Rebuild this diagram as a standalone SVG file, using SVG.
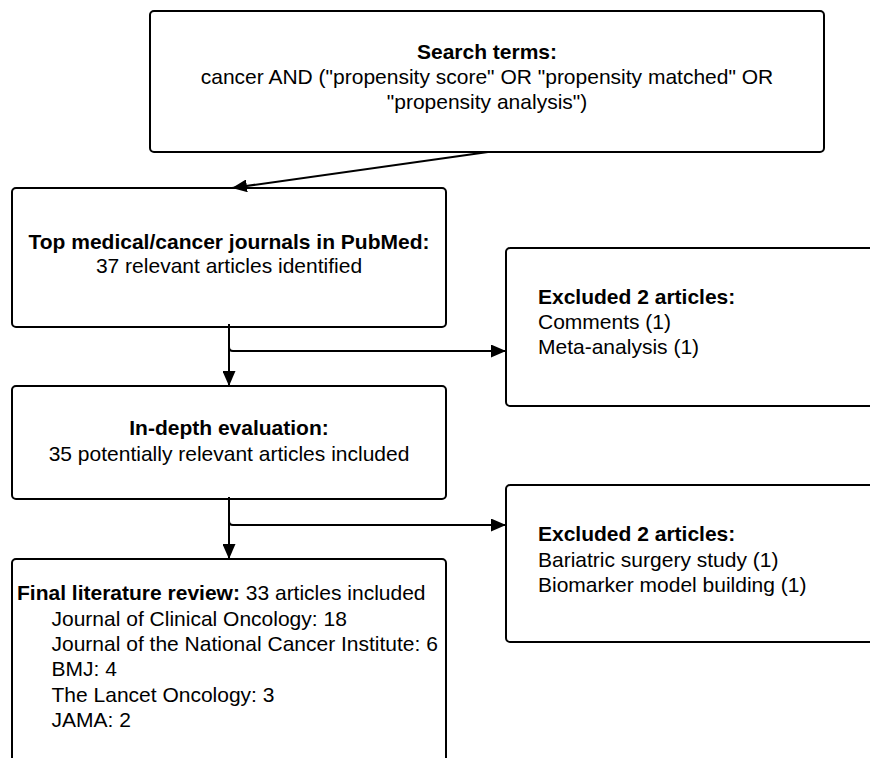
<svg xmlns="http://www.w3.org/2000/svg" width="870" height="758" viewBox="0 0 870 758">
<style>
.box{fill:#fff;stroke:#000;stroke-width:2}
text{font-family:"Liberation Sans",Arial,sans-serif;font-size:21px;fill:#000}
.b{font-weight:bold}
.c{text-anchor:middle}
.conn{fill:none;stroke:#000;stroke-width:2}
</style>
<defs>
<marker id="ah" markerUnits="userSpaceOnUse" markerWidth="16" markerHeight="13" refX="15" refY="6.5" orient="auto">
<path d="M0,0 L15,6.5 L0,13 z" fill="#000"/>
</marker>
</defs>
<rect width="870" height="758" fill="#fff"/>
<g id="search">
<rect class="box" x="150" y="11" width="674" height="141" rx="4"/>
<text class="c b" x="487" y="59">Search terms:</text>
<text class="c" x="487" y="84">cancer AND ("propensity score" OR "propensity matched" OR</text>
<text class="c" x="487" y="109">"propensity analysis")</text>
</g>
<g id="pubmed">
<rect class="box" x="12" y="188" width="434" height="139" rx="4"/>
<text class="c b" x="229" y="249">Top medical/cancer journals in PubMed:</text>
<text class="c" x="229" y="273">37 relevant articles identified</text>
</g>
<g id="excluded1">
<rect class="box" x="506" y="248" width="400" height="158" rx="4"/>
<text class="b" x="538" y="304">Excluded 2 articles:</text>
<text x="538" y="329">Comments (1)</text>
<text x="538" y="354">Meta-analysis (1)</text>
</g>
<g id="indepth">
<rect class="box" x="12" y="386" width="434" height="113" rx="4"/>
<text class="c b" x="229" y="435">In-depth evaluation:</text>
<text class="c" x="229" y="460.5">35 potentially relevant articles included</text>
</g>
<g id="excluded2">
<rect class="box" x="506" y="485" width="400" height="157" rx="4"/>
<text class="b" x="538" y="541">Excluded 2 articles:</text>
<text x="538" y="566.5">Bariatric surgery study (1)</text>
<text x="538" y="592">Biomarker model building (1)</text>
</g>
<g id="final">
<rect class="box" x="12" y="559" width="434" height="220" rx="4"/>
<text x="17" y="600"><tspan class="b">Final literature review:</tspan> 33 articles included</text>
<text x="51.5" y="625.5">Journal of Clinical Oncology: 18</text>
<text x="51.5" y="651">Journal of the National Cancer Institute: 6</text>
<text x="51.5" y="676.3">BMJ: 4</text>
<text x="51.5" y="701.6">The Lancet Oncology: 3</text>
<text x="51.5" y="727">JAMA: 2</text>
</g>
<g id="connectors">
<path class="conn" d="M488,152 L232,188" marker-end="url(#ah)"/>
<path class="conn" d="M229,324 L229,386" marker-end="url(#ah)"/>
<path class="conn" d="M229,347 Q229,351 233,351 L506,351" marker-end="url(#ah)"/>
<path class="conn" d="M229,497 L229,559" marker-end="url(#ah)"/>
<path class="conn" d="M229,521 Q229,525 233,525 L506,525" marker-end="url(#ah)"/>
</g>
</svg>
